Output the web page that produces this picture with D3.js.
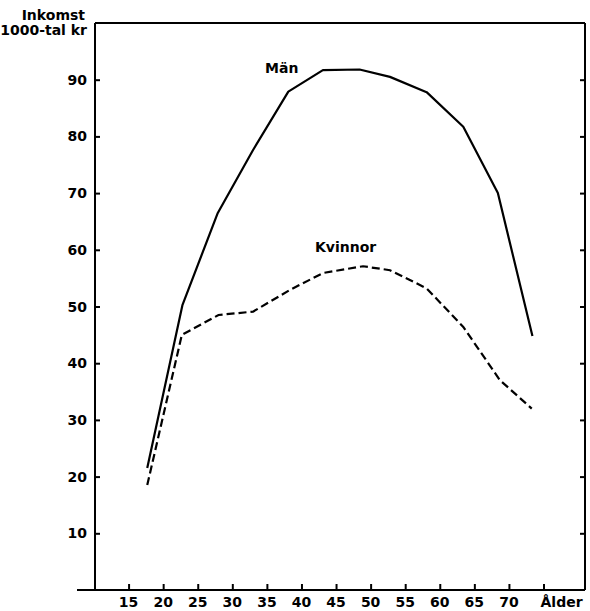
<!DOCTYPE html>
<html>
<head>
<meta charset="utf-8">
<script src="https://cdn.jsdelivr.net/npm/d3@7"></script>
<style>
  html, body { margin: 0; padding: 0; background: #fff; }
  text { font-family: "DejaVu Sans", sans-serif; font-weight: bold; font-size: 14px; fill: #000; }
</style>
</head>
<body>
<svg id="chart" width="590" height="611"></svg>
<script>
// Data
const manAges   = [17.7, 22.8, 27.9, 33.0, 38.1, 43.1, 48.4, 52.8, 58.1, 63.4, 68.4, 73.4];
const manValues = [21.5, 50.3, 66.5, 77.6, 87.9, 91.7, 91.8, 90.5, 87.8, 81.7, 70.0, 44.8];
const womenAges   = [17.7, 22.7, 28.0, 33.0, 38.3, 43.1, 48.9, 52.8, 58.1, 63.4, 68.7, 73.3];
const womenValues = [18.5, 45.0, 48.5, 49.1, 52.9, 55.9, 57.1, 56.4, 53.2, 46.4, 37.0, 32.0];
const xTicks = [15, 20, 25, 30, 35, 40, 45, 50, 55, 60, 65, 70, 75];
const xTickLabels = ["15", "20", "25", "30", "35", "40", "45", "50", "55", "60", "65", "70", ""];
const yTicks = [10, 20, 30, 40, 50, 60, 70, 80, 90];
const yTitle = ["Inkomst", "1000-tal kr"];
const xTitle = "Ålder";
const seriesLabels = ["Män", "Kvinnor"];

const svg = d3.select("#chart");
const pLeft = 95, pRight = 585, pTop = 23, pBottom = 590;

const x = d3.scaleLinear().domain([10, 81]).range([94, 585]);
const y = d3.scaleLinear().domain([0, 100]).range([pBottom, pTop]);

// Frame
svg.append("line").attr("x1", 77).attr("x2", pRight).attr("y1", pBottom).attr("y2", pBottom)
  .attr("stroke", "#000").attr("stroke-width", 2);
svg.append("line").attr("x1", pLeft).attr("x2", pLeft).attr("y1", pTop).attr("y2", pBottom)
  .attr("stroke", "#000").attr("stroke-width", 2);
svg.append("line").attr("x1", pLeft).attr("x2", pRight).attr("y1", pTop).attr("y2", pTop)
  .attr("stroke", "#000").attr("stroke-width", 2);
svg.append("line").attr("x1", pRight).attr("x2", pRight).attr("y1", pTop).attr("y2", pBottom)
  .attr("stroke", "#000").attr("stroke-width", 2);

// Left axis (ticks inward)
const yAxisL = d3.axisRight(y).tickValues(yTicks).tickSize(5).tickFormat("");
const gl = svg.append("g").attr("transform", `translate(${pLeft},0)`).call(yAxisL);
gl.select(".domain").remove();
gl.selectAll(".tick line").attr("stroke", "#000").attr("stroke-width", 2);
svg.append("g").selectAll("text").data(yTicks).join("text")
  .attr("x", 87).attr("y", d => y(d)).attr("dy", "0.36em")
  .attr("text-anchor", "end").text(d => d);

// Right axis (ticks inward)
const yAxisR = d3.axisLeft(y).tickValues(yTicks).tickSize(5).tickFormat("");
const gr = svg.append("g").attr("transform", `translate(${pRight},0)`).call(yAxisR);
gr.select(".domain").remove();
gr.selectAll(".tick line").attr("stroke", "#000").attr("stroke-width", 2);

// Bottom axis (ticks inward)
const xAxis = d3.axisTop(x).tickValues(xTicks).tickSize(6).tickFormat("");
const gb = svg.append("g").attr("transform", `translate(0,${pBottom})`).call(xAxis);
gb.select(".domain").remove();
gb.selectAll(".tick line").attr("stroke", "#000").attr("stroke-width", 2);
svg.append("g").selectAll("text").data(xTicks).join("text")
  .attr("x", d => x(d)).attr("y", 607)
  .attr("text-anchor", "middle").text((d, i) => xTickLabels[i]);
svg.append("text").attr("x", x(75) - 3).attr("y", 607).attr("text-anchor", "start").text(xTitle);

// Y title
svg.append("text").attr("x", 85).attr("y", 20).attr("text-anchor", "end").text(yTitle[0]);
svg.append("text").attr("x", 87).attr("y", 35).attr("text-anchor", "end").text(yTitle[1]);

// Lines
const line = d3.line().x(d => x(d[0])).y(d => y(d[1]));
svg.append("path").datum(d3.zip(manAges, manValues)).attr("d", line)
  .attr("fill", "none").attr("stroke", "#000").attr("stroke-width", 2.2).attr("stroke-linejoin", "round");
svg.append("path").datum(d3.zip(womenAges, womenValues)).attr("d", line)
  .attr("fill", "none").attr("stroke", "#000").attr("stroke-width", 2.2)
  .attr("stroke-dasharray", "8,4");

// Series labels
svg.append("text").attr("x", 265).attr("y", 73).text(seriesLabels[0]);
svg.append("text").attr("x", 315).attr("y", 252).text(seriesLabels[1]);
</script>
</body>
</html>
